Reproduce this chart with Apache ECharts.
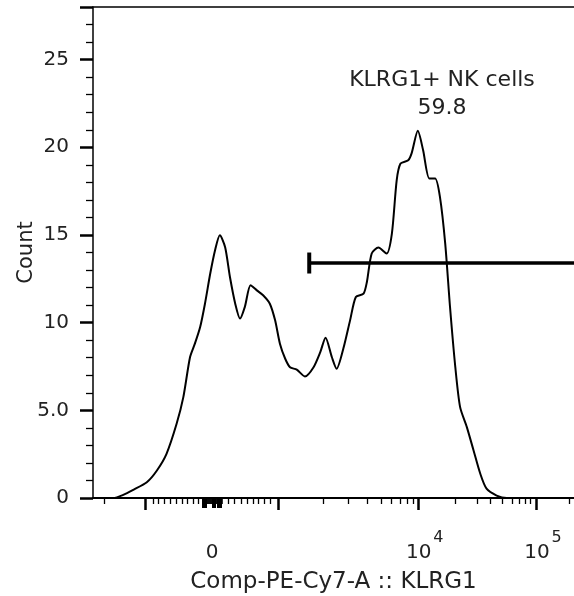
<!DOCTYPE html>
<html>
<head>
<meta charset="utf-8">
<script src="https://cdn.jsdelivr.net/npm/echarts@6/dist/echarts.min.js"></script>
<style>
  html, body { margin: 0; padding: 0; background: #fff; }
  #chart { width: 574px; height: 596px; }
</style>
</head>
<body>
<div id="chart"></div>
<script>
// Display channel scale of the biexponential axis (visible range 0 .. 1001)
const channels = [0, 42, 63, 84, 112, 133, 153, 174, 188, 202, 212, 223, 233, 244, 254, 264, 275, 285, 296, 306, 316, 328, 341, 354, 368, 379, 389, 400, 410, 424, 441, 459, 473, 484, 497, 507, 521, 535, 547, 563, 570, 580, 594, 611, 622, 632, 640, 656, 663, 676, 687, 700, 712, 722, 733, 743, 754, 764, 778, 792, 806, 819, 840, 861, 1001];
const counts = [0, 0, 0.18, 0.47, 0.9, 1.57, 2.52, 4.23, 5.75, 8.04, 8.8, 9.75, 11.08, 12.8, 14.13, 14.98, 14.3, 12.6, 11.08, 10.23, 10.9, 12.13, 11.84, 11.56, 11.08, 10.13, 8.8, 7.94, 7.46, 7.32, 6.93, 7.46, 8.32, 9.14, 8.04, 7.37, 8.52, 10.13, 11.46, 11.65, 12.32, 13.94, 14.28, 13.94, 15.08, 18.12, 19.07, 19.26, 19.65, 20.94, 19.83, 18.22, 18.22, 17.17, 14.51, 10.89, 7.46, 5.18, 4.04, 2.71, 1.38, 0.53, 0.14, 0, 0];

// Gate
const gateStart = 450;
const gateEnd = 1001;
const gateLevel = 13.4;
const gateName = 'KLRG1+ NK cells';
const gatePercent = '59.8';

// X axis ticks (channel units)
const xMajorTicks = [108, 385, 676, 922];
const xMinorTicks = [23, 125, 135, 148, 160, 173, 185, 196, 208, 219, 281, 293, 308, 321, 333, 343, 356, 368, 479, 531, 570, 599, 620, 639, 654, 666, 754, 799, 826, 851, 872, 887, 899, 910, 991];
const xDenseTicks = [229, 231, 233, 235, 237, 239, 241, 244, 246, 248, 250, 252, 254, 256, 258, 260, 262, 264, 266, 268];
const xMidTicks = [229, 231, 233, 235, 250, 252, 254, 260, 262, 264, 266];
const xLabelValues = [248, 676, 922];
const xLabelTexts = ['0', '10^4', '10^5'];

// Y axis
const yLabelValues = [0, 5, 10, 15, 20, 25];
const yLabelTexts = ['0', '5.0', '10', '15', '20', '25'];
const yMajorTicks = [0, 5, 10, 15, 20, 25, 28];
const yMinorTicks = [1, 2, 3, 4, 6, 7, 8, 9, 11, 12, 13, 14, 16, 17, 18, 19, 21, 22, 23, 24, 26, 27];

const FONT = 'DejaVu Sans';
const TXT = '#222';
const X_MAX = 1001;

const chart = echarts.init(document.getElementById('chart'), null, { renderer: 'canvas' });

function xLabelFormatter(v) {
  const i = xLabelValues.findIndex(x => Math.abs(x - v) < 0.5);
  if (i < 0) return '';
  const t = xLabelTexts[i];
  if (t.indexOf('^') >= 0) {
    const [b, e] = t.split('^');
    return '{sup|' + e + '}\n{b|' + b + '}';
  }
  return '{e| }\n{z|' + t + '}';
}
function yLabelFormatter(v) {
  const i = yLabelValues.findIndex(x => Math.abs(x - v) < 0.01);
  return i < 0 ? '' : yLabelTexts[i];
}

const xBase = {
  type: 'value', min: 0, max: X_MAX, position: 'bottom', gridIndex: 0,
  splitLine: { show: false }, axisLabel: { show: false },
  axisLine: { show: false, onZero: false }
};
const yBase = {
  type: 'value', min: 0, max: 28, position: 'left', gridIndex: 0,
  splitLine: { show: false }, axisLabel: { show: false },
  axisLine: { show: false, onZero: false }
};

const option = {
  animation: false,
  backgroundColor: '#fff',
  grid: { left: 93, top: 7, right: 0, bottom: 98, show: false, outerBoundsMode: 'none', containLabel: false },
  xAxis: [
    Object.assign({}, xBase, {
      axisLine: { show: true, onZero: false, lineStyle: { color: '#000', width: 2 } },
      axisTick: { show: true, customValues: xMajorTicks, length: 12, lineStyle: { color: '#000', width: 2.5 } },
      axisLabel: {
        show: true, customValues: xLabelValues, formatter: xLabelFormatter, margin: 35,
        color: TXT, fontFamily: FONT, fontSize: 20, hideOverlap: false,
        rich: {
          sup: { fontSize: 16, fontFamily: FONT, color: TXT, lineHeight: 10, padding: [0, 0, 0, 41] },
          b: { fontSize: 20, fontFamily: FONT, color: TXT, lineHeight: 20, padding: [0, 12, 0, 14] },
          e: { fontSize: 16, lineHeight: 10 },
          z: { fontSize: 20, fontFamily: FONT, color: TXT, lineHeight: 20 }
        }
      },
      name: 'Comp-PE-Cy7-A :: KLRG1', nameLocation: 'middle', nameGap: 73, nameMoveOverlap: false,
      nameTextStyle: { color: TXT, fontFamily: FONT, fontSize: 23 }
    }),
    Object.assign({}, xBase, { axisTick: { show: true, customValues: xMinorTicks, length: 6, lineStyle: { color: '#000', width: 1.3 } } }),
    Object.assign({}, xBase, { axisTick: { show: true, customValues: xDenseTicks, length: 6, lineStyle: { color: '#000', width: 1.6 } } }),
    Object.assign({}, xBase, { axisTick: { show: true, customValues: xMidTicks, length: 10, lineStyle: { color: '#000', width: 2 } } }),
    Object.assign({}, xBase, { position: 'top', axisTick: { show: false }, axisLine: { show: true, onZero: false, lineStyle: { color: '#000', width: 1.5 } } })
  ],
  yAxis: [
    Object.assign({}, yBase, {
      axisLine: { show: true, onZero: false, lineStyle: { color: '#000', width: 1.5 } },
      axisTick: { show: true, customValues: yMajorTicks, length: 13, lineStyle: { color: '#000', width: 2.5 } },
      axisLabel: { show: true, customValues: yLabelValues, formatter: yLabelFormatter, margin: 24, color: TXT, fontFamily: FONT, fontSize: 20 },
      name: 'Count', nameLocation: 'middle', nameGap: 56, nameMoveOverlap: false,
      nameTextStyle: { color: TXT, fontFamily: FONT, fontSize: 21 }
    }),
    Object.assign({}, yBase, { axisTick: { show: true, customValues: yMinorTicks, length: 7, lineStyle: { color: '#000', width: 1.3 } } })
  ],
  series: [
    {
      type: 'line', xAxisIndex: 0, yAxisIndex: 0,
      data: channels.map((c, i) => [c, counts[i]]),
      smooth: 0.25, showSymbol: false, symbol: 'none',
      lineStyle: { color: '#000', width: 2 }
    },
    {
      type: 'line', xAxisIndex: 0, yAxisIndex: 0,
      data: [
        { value: [gateStart, gateLevel], symbol: 'rect', symbolSize: [4, 21] },
        { value: [gateEnd, gateLevel], symbol: 'none' }
      ],
      showSymbol: true,
      itemStyle: { color: '#000' },
      lineStyle: { color: '#000', width: 3.5 }
    }
  ],
  graphic: [
    {
      type: 'text', x: 442, y: 66,
      style: {
        text: gateName + '\n' + gatePercent, align: 'center', verticalAlign: 'top',
        fill: TXT, fontFamily: FONT, fontSize: 22, lineHeight: 28
      }
    }
  ]
};
chart.setOption(option);
</script>
</body>
</html>
